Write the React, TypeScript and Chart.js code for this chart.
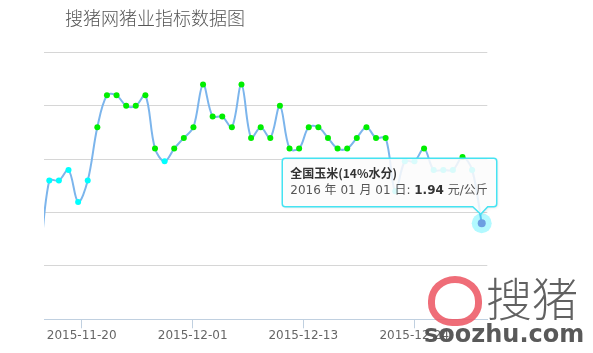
import React, { useEffect, useRef } from 'react';
import { Chart, registerables } from 'chart.js';

Chart.register(...registerables);

// ---- data ----
const titleText = '搜猪网猪业指标数据图';
const seriesName = '全国玉米(14%水分)';
const unitText = '元/公斤';
const tooltipDate = '2016 年 01 月 01 日';
const xTickLabels = ['2015-11-20', '2015-12-01', '2015-12-13', '2015-12-24'];
const xTickPositions = [4.37, 15.92, 27.43, 38.98];
const prices = [
  1.90, 1.98, 1.98, 1.99, 1.96, 1.98, 2.03, 2.06, 2.06, 2.05,
  2.05, 2.06, 2.01, 1.998, 2.01, 2.02, 2.03, 2.07, 2.04, 2.04,
  2.03, 2.07, 2.02, 2.03, 2.02, 2.05, 2.01, 2.01, 2.03, 2.03,
  2.02, 2.01, 2.01, 2.02, 2.03, 2.02, 2.02, 1.97, 1.998, 1.998,
  2.01, 1.99, 1.99, 1.99, 2.002, 1.99, 1.94,
];
const yMin = 1.85;
const yMax = 2.1;
const yStep = 0.05;
const xMin = 0.45;
const xMax = 46.58;
const highThreshold = 2.0;

const CJK = '"Noto Sans CJK SC", "DejaVu Sans", sans-serif';
const MIXED = '"DejaVu Sans", "Noto Sans CJK SC", sans-serif';

const staticTooltip = {
  id: 'staticTooltip',
  afterDatasetsDraw(chart: any) {
    const meta = chart.getDatasetMeta(0);
    const idx = prices.length - 1;
    const el = meta.data[idx];
    if (!el) return;
    const px = el.x;
    const py = el.y;
    const ctx = chart.ctx as CanvasRenderingContext2D;
    ctx.save();
    // halo + hover marker
    ctx.beginPath();
    ctx.arc(px, py, 10, 0, Math.PI * 2);
    ctx.fillStyle = 'rgba(0,235,255,0.3)';
    ctx.fill();
    ctx.beginPath();
    ctx.arc(px, py, 4, 0, Math.PI * 2);
    ctx.fillStyle = '#6c9fe2';
    ctx.fill();

    // measure text
    const fTitle = 'bold 12px ' + CJK;
    const fBold = 'bold 12px ' + MIXED;
    const fNorm = '12px ' + MIXED;
    ctx.font = fTitle;
    const w1 = ctx.measureText(seriesName).width;
    const valueText = prices[idx].toFixed(2);
    ctx.font = fNorm;
    const wDate = ctx.measureText(tooltipDate + ': ').width;
    const wUnit = ctx.measureText(' ' + unitText).width;
    ctx.font = fBold;
    const wVal = ctx.measureText(valueText).width;
    const w2 = wDate + wVal + wUnit;
    const w = Math.max(w1, w2) + 17;
    const h = 48.5;
    const right = px + 15;
    const left = right - w;
    const bottom = py - 16.5;
    const top = bottom - h;
    const r = 3;

    ctx.beginPath();
    ctx.moveTo(left + r, top);
    ctx.lineTo(right - r, top);
    ctx.arcTo(right, top, right, top + r, r);
    ctx.lineTo(right, bottom - r);
    ctx.arcTo(right, bottom, right - r, bottom, r);
    ctx.lineTo(px + 6, bottom);
    ctx.lineTo(px - 1, py - 9);
    ctx.lineTo(px - 9, bottom);
    ctx.lineTo(left + r, bottom);
    ctx.arcTo(left, bottom, left, bottom - r, r);
    ctx.lineTo(left, top + r);
    ctx.arcTo(left, top, left + r, top, r);
    ctx.closePath();
    ctx.shadowColor = 'rgba(0,0,0,0.12)';
    ctx.shadowBlur = 3;
    ctx.shadowOffsetX = 1;
    ctx.shadowOffsetY = 1;
    ctx.fillStyle = 'rgba(255,255,255,0.85)';
    ctx.fill();
    ctx.shadowColor = 'rgba(0,0,0,0)';
    ctx.lineWidth = 1.5;
    ctx.strokeStyle = '#45e3f2';
    ctx.stroke();

    // text
    ctx.textBaseline = 'middle';
    ctx.textAlign = 'left';
    const tx = left + 8;
    ctx.font = fTitle;
    ctx.fillStyle = '#333333';
    ctx.fillText(seriesName, tx, top + 15.5);
    const y2 = top + 33;
    ctx.font = fNorm;
    ctx.fillStyle = '#555555';
    ctx.fillText(tooltipDate + ': ', tx, y2);
    ctx.font = fBold;
    ctx.fillStyle = '#333333';
    ctx.fillText(valueText, tx + wDate, y2);
    ctx.font = fNorm;
    ctx.fillStyle = '#555555';
    ctx.fillText(' ' + unitText, tx + wDate + wVal, y2);
    ctx.restore();
  },
};

export default function App() {
  const canvasRef = useRef<HTMLCanvasElement | null>(null);

  useEffect(() => {
    if (!canvasRef.current) return;
    const points = prices.map((v, i) => ({ x: i, y: v }));
    const chart = new Chart(canvasRef.current, {
      type: 'line',
      data: {
        datasets: [
          {
            label: seriesName,
            data: points,
            borderColor: '#7cb5ec',
            borderWidth: 2,
            tension: 0.35,
            clip: 0,
            pointRadius: 3,
            pointBorderWidth: 0,
            pointBackgroundColor: (c: any) =>
              c.parsed && c.parsed.y >= highThreshold ? '#00ee00' : '#00ffff',
            pointBorderColor: 'rgba(0,0,0,0)',
          },
        ],
      },
      options: {
        responsive: false,
        animation: false,
        devicePixelRatio: 1,
        events: [],
        layout: { padding: { top: 52.5, right: 105.7, left: 0, bottom: 0 } },
        plugins: {
          legend: { display: false },
          tooltip: { enabled: false },
          title: { display: false },
        },
        scales: {
          x: {
            type: 'linear',
            min: xMin,
            max: xMax,
            afterBuildTicks: (scale: any) => {
              scale.ticks = xTickPositions.map((v) => ({ value: v }));
            },
            afterFit: (scale: any) => {
              scale.height = 33.7;
            },
            border: { display: true, color: '#c0d0e0', width: 1 },
            grid: {
              display: true,
              drawOnChartArea: false,
              drawTicks: true,
              tickLength: 9,
              color: '#c0d0e0',
            },
            ticks: {
              autoSkip: false,
              maxRotation: 0,
              padding: 0,
              color: '#666666',
              font: { family: '"DejaVu Sans", sans-serif', size: 12 },
              callback: (_v: any, i: number) => xTickLabels[i],
            },
          },
          y: {
            type: 'linear',
            min: yMin,
            max: yMax,
            afterFit: (scale: any) => {
              scale.width = 44;
            },
            border: { display: false },
            grid: {
              drawTicks: false,
              color: (c: any) =>
                c.tick && Math.abs(c.tick.value - yMin) < 1e-6 ? 'rgba(0,0,0,0)' : '#d6d6d6',
              lineWidth: 1,
            },
            ticks: { display: false, stepSize: yStep },
          },
        },
      },
      plugins: [staticTooltip],
    } as any);
    return () => chart.destroy();
  }, []);

  return (
    <div style={{ position: 'absolute', left: 0, top: 0, width: 593, height: 353, background: '#fff', overflow: 'hidden' }}>
      <canvas ref={canvasRef} width={593} height={353} style={{ width: 593, height: 353, display: 'block' }} />
      <div
        style={{
          position: 'absolute',
          left: 65,
          top: 5,
          fontFamily: CJK,
          fontSize: 18,
          lineHeight: '24px',
          color: '#555',
          fontWeight: 300,
          whiteSpace: 'nowrap',
        }}
      >
        {titleText}
      </div>
      {/* watermark */}
      <div
        style={{
          position: 'absolute',
          left: 428,
          top: 276,
          width: 40,
          height: 36,
          border: '7px solid rgba(236,84,96,0.85)',
          borderRadius: '50% 50% 45% 45%',
        }}
      />
      <div
        style={{
          position: 'absolute',
          left: 486,
          top: 268,
          fontFamily: CJK,
          fontSize: 46,
          lineHeight: '56px',
          color: 'rgba(80,80,80,0.9)',
          fontWeight: 300,
          whiteSpace: 'nowrap',
        }}
      >
        搜猪
      </div>
      <div
        style={{
          position: 'absolute',
          left: 424,
          top: 320,
          fontFamily: '"DejaVu Sans", sans-serif',
          fontSize: 24,
          lineHeight: '28px',
          fontWeight: 'bold',
          color: 'rgba(80,80,80,0.95)',
          whiteSpace: 'nowrap',
        }}
      >
        soozhu.com
      </div>
    </div>
  );
}
